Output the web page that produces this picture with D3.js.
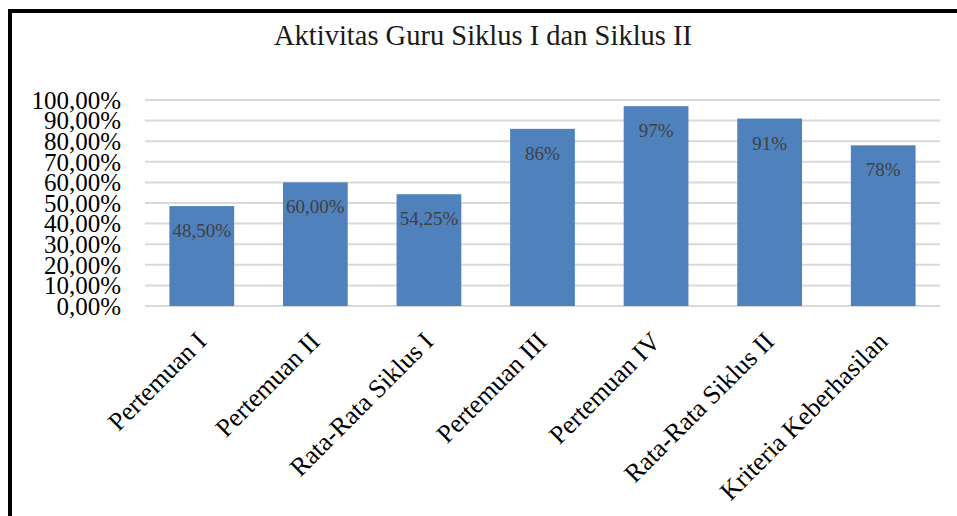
<!DOCTYPE html>
<html>
<head>
<meta charset="utf-8">
<script src="https://cdn.jsdelivr.net/npm/d3@7"></script>
<style>
  html, body { margin: 0; padding: 0; background: #fff; overflow: hidden; }
  svg { display: block; font-family: "Liberation Serif", "DejaVu Serif", serif; }
</style>
</head>
<body>
<div id="chart"></div>
<script>
const categories = ["Pertemuan I", "Pertemuan II", "Rata-Rata Siklus I", "Pertemuan III",
                    "Pertemuan IV", "Rata-Rata Siklus II", "Kriteria Keberhasilan"];
const values = [48.5, 60.0, 54.25, 86, 97, 91, 78];
const valueLabels = ["48,50%", "60,00%", "54,25%", "86%", "97%", "91%", "78%"];
const yTicks = [0, 10, 20, 30, 40, 50, 60, 70, 80, 90, 100];
const yTickLabels = ["0,00%", "10,00%", "20,00%", "30,00%", "40,00%", "50,00%",
                     "60,00%", "70,00%", "80,00%", "90,00%", "100,00%"];

const W = 957, H = 516;
const plot = {left: 145, right: 940, top: 100, bottom: 306};

const svg = d3.select("#chart").append("svg")
    .attr("width", W)
    .attr("height", H);

// frame (only left and top edges show in the crop)
svg.append("path")
    .attr("d", `M10,${H + 5} L10,11 L${W + 5},11`)
    .attr("fill", "none")
    .attr("stroke", "#000")
    .attr("stroke-width", 4);

svg.append("text")
    .attr("x", 483)
    .attr("y", 45)
    .attr("text-anchor", "middle")
    .style("font-size", "28.5px")
    .style("fill", "#1a1a1a")
    .text("Aktivitas Guru Siklus I dan Siklus II");

const x = d3.scaleBand()
    .domain(categories)
    .range([plot.left, plot.right])
    .paddingInner(0.43)
    .paddingOuter(0.215);

const y = d3.scaleLinear()
    .domain([0, 100])
    .range([plot.bottom, plot.top]);

// gridlines
svg.append("g")
    .selectAll("line")
    .data(yTicks)
    .enter()
    .append("line")
    .attr("x1", plot.left)
    .attr("x2", plot.right)
    .attr("y1", d => y(d))
    .attr("y2", d => y(d))
    .attr("stroke", "#d9d9d9")
    .attr("stroke-width", 2);

// y labels
svg.append("g")
    .selectAll("text")
    .data(yTicks)
    .enter()
    .append("text")
    .attr("x", 121)
    .attr("y", d => y(d))
    .attr("dy", "0.35em")
    .attr("text-anchor", "end")
    .style("font-size", "25px")
    .style("fill", "#000")
    .text((d, i) => yTickLabels[i]);

// bars
svg.append("g")
    .selectAll("rect")
    .data(values)
    .enter()
    .append("rect")
    .attr("x", (d, i) => x(categories[i]))
    .attr("width", x.bandwidth())
    .attr("y", d => y(d))
    .attr("height", d => y(0) - y(d))
    .attr("fill", "#4f81bd");

// value labels
svg.append("g")
    .selectAll("text")
    .data(values)
    .enter()
    .append("text")
    .attr("x", (d, i) => x(categories[i]) + x.bandwidth() / 2)
    .attr("y", d => y(d) + 31)
    .attr("text-anchor", "middle")
    .style("font-size", "19px")
    .style("fill", "#404040")
    .text((d, i) => valueLabels[i]);

// category labels, rotated
svg.append("g")
    .selectAll("text")
    .data(categories)
    .enter()
    .append("text")
    .attr("transform", d => `translate(${x(d) + x.bandwidth() / 2 + 6},${plot.bottom + 37}) rotate(-45)`)
    .attr("text-anchor", "end")
    .style("font-size", "26px")
    .style("fill", "#000")
    .text(d => d);
</script>
</body>
</html>
